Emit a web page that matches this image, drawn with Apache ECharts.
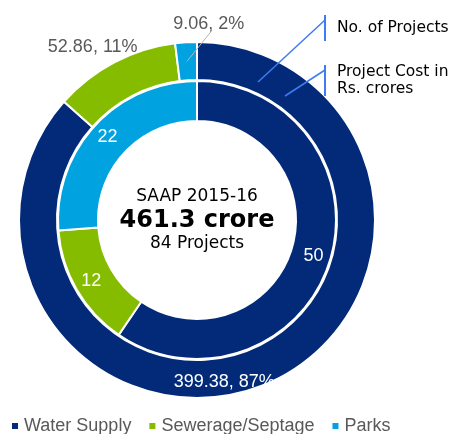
<!DOCTYPE html>
<html>
<head>
<meta charset="utf-8">
<script src="https://cdn.jsdelivr.net/npm/echarts@6/dist/echarts.min.js"></script>
<style>
  html, body { margin: 0; padding: 0; background: #fff; }
  #chart { width: 451px; height: 434px; }
</style>
</head>
<body>
<div id="chart"></div>
<script>
// categories and values
const categories = ['Water Supply', 'Sewerage/Septage', 'Parks'];
const projectCount = [50, 12, 22];
const projectCost = [399.38, 52.86, 9.06];
const costPercent = [87, 11, 2];
const colors = ['#022a78', '#86bc00', '#00a3e0'];

const chart = echarts.init(document.getElementById('chart'));

// outer ring label tweaks (where the label sits relative to its slice)
const costLabelStyle = [
  { position: 'inside', color: '#fff', offset: [-39, 14] },
  { position: 'inside', color: '#595959', offset: [-29, -30] },
  { position: 'outside', color: '#595959' }
];

const ringCenter = [197, 220];

chart.setOption({
  animation: false,
  color: colors,
  legend: {
    data: categories,
    left: 5,
    top: 412,
    icon: 'rect',
    itemWidth: 8,
    itemHeight: 8,
    itemGap: 16,
    textStyle: { fontSize: 18, color: '#595959', fontFamily: 'Arial' }
  },
  series: [
    {
      name: 'No. of Projects',
      type: 'pie',
      center: ringCenter,
      radius: [99, 139],
      startAngle: 90,
      silent: true,
      itemStyle: { borderColor: '#fff', borderWidth: 2 },
      label: {
        position: 'inside',
        color: '#fff',
        fontSize: 18,
        fontFamily: 'Arial',
        formatter: '{c}'
      },
      labelLine: { show: false },
      data: categories.map((name, i) => ({ name: name, value: projectCount[i] }))
    },
    {
      name: 'Project Cost',
      type: 'pie',
      center: ringCenter,
      radius: [140, 178],
      startAngle: 90,
      silent: true,
      itemStyle: { borderColor: '#fff', borderWidth: 2 },
      label: { show: false },
      labelLine: { show: false },
      data: categories.map((name, i) => ({ name: name, value: projectCost[i] }))
    },
    {
      // same ring again, invisible, only to carry the cost labels above the sectors
      name: 'Project Cost labels',
      type: 'pie',
      center: ringCenter,
      radius: [140, 178],
      startAngle: 90,
      silent: true,
      z: 5,
      itemStyle: { color: 'rgba(0,0,0,0)', borderWidth: 0 },
      label: {
        fontSize: 18,
        fontFamily: 'Arial',
        formatter: p => projectCost[p.dataIndex].toFixed(2) + ', ' + costPercent[p.dataIndex] + '%'
      },
      labelLine: {
        length: 12,
        length2: 0,
        lineStyle: { color: '#b4b4b4', width: 1 }
      },
      labelLayout: function (params) {
        if (params.dataIndex === 2) {
          const start = params.labelLinePoints[0];
          // leader runs from inside the slice up and to the right, under the label
          return {
            dx: 64,
            dy: -6,
            labelLinePoints: [[start[0] + 1, start[1] + 19], [start[0] + 26, start[1] - 12]]
          };
        }
      },
      data: categories.map((name, i) => ({
        name: name,
        value: projectCost[i],
        label: costLabelStyle[i],
        labelLine: { show: i === 2 }
      }))
    }
  ],
  graphic: [
    {
      type: 'text', z: 100,
      style: {
        x: 197, y: 197, text: 'SAAP 2015-16', align: 'center', verticalAlign: 'middle',
        font: '17px "DejaVu Sans"', fill: '#000'
      }
    },
    {
      type: 'text', z: 100,
      style: {
        x: 197, y: 221, text: '461.3 crore', align: 'center', verticalAlign: 'middle',
        font: 'bold 24px "DejaVu Sans"', fill: '#000'
      }
    },
    {
      type: 'text', z: 100,
      style: {
        x: 197, y: 244, text: '84 Projects', align: 'center', verticalAlign: 'middle',
        font: '17px "DejaVu Sans"', fill: '#000'
      }
    },
    // callouts at the top right
    {
      type: 'polyline', z: 100,
      shape: { points: [[258, 82], [325, 20]] },
      style: { stroke: '#3d7cf2', lineWidth: 1.5, fill: null }
    },
    {
      type: 'line', z: 100,
      shape: { x1: 325, y1: 15, x2: 325, y2: 41 },
      style: { stroke: '#3d7cf2', lineWidth: 2 }
    },
    {
      type: 'polyline', z: 100,
      shape: { points: [[285, 96], [325, 70]] },
      style: { stroke: '#3d7cf2', lineWidth: 1.5, fill: null }
    },
    {
      type: 'line', z: 100,
      shape: { x1: 325, y1: 65, x2: 325, y2: 96 },
      style: { stroke: '#3d7cf2', lineWidth: 2 }
    },
    {
      type: 'text', z: 100,
      style: {
        x: 337, y: 28, text: 'No. of Projects', verticalAlign: 'middle',
        font: '15.5px "DejaVu Sans"', fill: '#000'
      }
    },
    {
      type: 'text', z: 100,
      style: {
        x: 337, y: 63, text: 'Project Cost in\nRs. crores', verticalAlign: 'top',
        font: '15.5px "DejaVu Sans"', lineHeight: 17, fill: '#000'
      }
    }
  ]
});
</script>
</body>
</html>
